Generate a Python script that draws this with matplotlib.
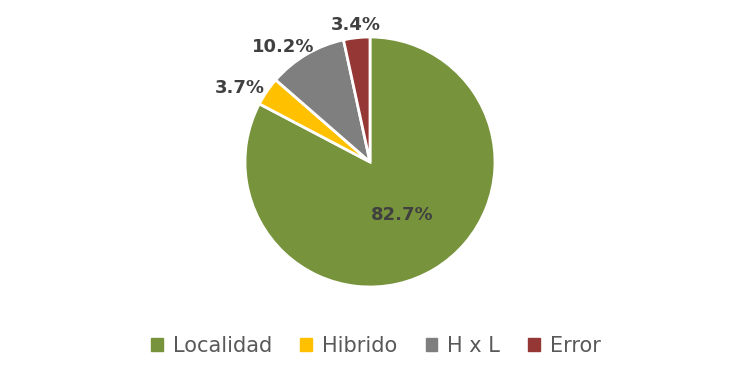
import matplotlib
matplotlib.use("Agg")
import matplotlib.pyplot as plt
import numpy as np

categories = ["Localidad", "Hibrido", "H x L", "Error"]
values = [82.7, 3.7, 10.2, 3.4]
colors = ["#77933C", "#FFC000", "#7F7F7F", "#953735"]

W, H = 739, 377
fig = plt.figure(figsize=(W / 100, H / 100), dpi=100)
cx, cy, R = 370, 162, 125
lim = 1.3
size = 2 * lim * R
ax = fig.add_axes([(cx - size / 2) / W, (H - cy - size / 2) / H, size / W, size / H])

wedges, _ = ax.pie(values, colors=colors, startangle=90, counterclock=False,
                   radius=1.0, wedgeprops=dict(edgecolor="white", linewidth=2.0))
ax.set_xlim(-lim, lim)
ax.set_ylim(-lim, lim)
ax.set_aspect("equal")
ax.axis("off")

dists = [0.5, 1.2, 1.15, 1.1]
ang_off = [0, 4.7, 6.4, 0]
for w, v, d, off in zip(wedges, values, dists, ang_off):
    mid = np.deg2rad((w.theta1 + w.theta2) / 2 + off)
    ax.text(d * np.cos(mid), d * np.sin(mid), f"{v:.1f}%", ha="center", va="center",
            fontsize=13, fontweight="bold", color="#404040", clip_on=False)

handles = [plt.Rectangle((0, 0), 1, 1, color=c) for c in colors]
leg = fig.legend(handles, categories, loc="center", bbox_to_anchor=(0.509, 1 - 346 / H),
                 ncol=4, frameon=False, fontsize=15, handlelength=0.55, handleheight=0.55,
                 handletextpad=0.5, columnspacing=1.35, labelcolor="#595959")

fig.savefig("out.png", dpi=100)
